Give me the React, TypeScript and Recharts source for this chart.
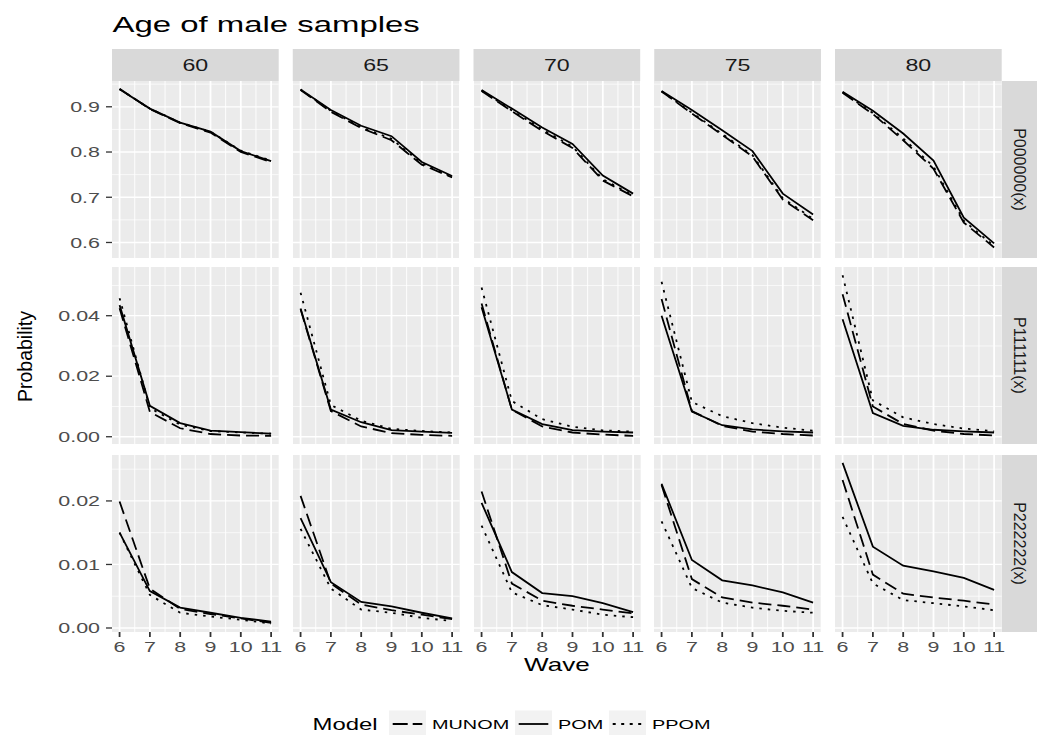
import React from "react";
import { CartesianGrid, Line, LineChart, XAxis, YAxis } from "recharts";

// the reference text is drawn wide, so horizontal labels get this x-stretch
const SX = 1.45;
const FONT = '"Liberation Sans", Arial, Helvetica, sans-serif';

const waves = [6, 7, 8, 9, 10, 11];
const ages = ["60", "65", "70", "75", "80"];
const quantities = ["P000000(x)", "P111111(x)", "P222222(x)"];
const models = ["MUNOM", "POM", "PPOM"];

// P000000(x): one row per age (60..80), one value per wave (6..11)
const p0MUNOM = [
  [0.94, 0.895, 0.864, 0.843, 0.8, 0.778],
  [0.937, 0.889, 0.853, 0.826, 0.772, 0.744],
  [0.935, 0.89, 0.847, 0.809, 0.737, 0.702],
  [0.934, 0.885, 0.838, 0.79, 0.695, 0.649],
  [0.931, 0.884, 0.826, 0.763, 0.644, 0.589],
];
const p0POM = [
  [0.939, 0.896, 0.865, 0.845, 0.802, 0.78],
  [0.938, 0.893, 0.858, 0.835, 0.778, 0.747],
  [0.937, 0.896, 0.854, 0.818, 0.748, 0.708],
  [0.935, 0.893, 0.848, 0.802, 0.708, 0.662],
  [0.933, 0.891, 0.841, 0.781, 0.655, 0.598],
];
const p0PPOM = [
  [0.939, 0.896, 0.865, 0.845, 0.803, 0.781],
  [0.938, 0.891, 0.855, 0.829, 0.775, 0.745],
  [0.936, 0.892, 0.85, 0.812, 0.74, 0.704],
  [0.934, 0.887, 0.84, 0.793, 0.698, 0.652],
  [0.932, 0.886, 0.83, 0.768, 0.648, 0.592],
];

// P111111(x)
const p1MUNOM = [
  [0.0425, 0.0082, 0.0028, 0.0009, 0.0004, 0.0003],
  [0.0421, 0.0085, 0.0034, 0.0012, 0.0006, 0.0003],
  [0.044, 0.0089, 0.0034, 0.0014, 0.0007, 0.0003],
  [0.0455, 0.0085, 0.0036, 0.0017, 0.0009, 0.0004],
  [0.0471, 0.01, 0.0042, 0.002, 0.0009, 0.0004],
];
const p1POM = [
  [0.0435, 0.0102, 0.0045, 0.002, 0.0015, 0.001],
  [0.0424, 0.009, 0.0048, 0.0022, 0.0017, 0.0013],
  [0.0428, 0.009, 0.0042, 0.0022, 0.0017, 0.0014],
  [0.04, 0.0083, 0.0038, 0.0024, 0.0018, 0.0014],
  [0.0388, 0.0078, 0.0036, 0.0023, 0.0018, 0.0014],
];
const p1PPOM = [
  [0.0458, 0.0095, 0.004, 0.0019, 0.0014, 0.001],
  [0.0476, 0.0105, 0.0053, 0.0026, 0.0019, 0.0014],
  [0.0493, 0.0118, 0.0058, 0.0033, 0.0021, 0.0017],
  [0.0512, 0.0115, 0.0068, 0.0045, 0.003, 0.002],
  [0.0534, 0.012, 0.0064, 0.0042, 0.0027, 0.0018],
];

// P222222(x)
const p2MUNOM = [
  [0.0199, 0.0062, 0.003, 0.0022, 0.0015, 0.0008],
  [0.0208, 0.007, 0.0037, 0.0028, 0.0021, 0.0014],
  [0.0215, 0.007, 0.0043, 0.0035, 0.0029, 0.0023],
  [0.0225, 0.0077, 0.0048, 0.004, 0.0035, 0.0029],
  [0.0233, 0.0084, 0.0054, 0.0048, 0.0043, 0.0037],
];
const p2POM = [
  [0.015, 0.0058, 0.0032, 0.0024, 0.0016, 0.001],
  [0.0173, 0.0072, 0.0041, 0.0034, 0.0024, 0.0015],
  [0.0197, 0.0088, 0.0055, 0.005, 0.0039, 0.0025],
  [0.0227, 0.0107, 0.0075, 0.0067, 0.0056, 0.004],
  [0.026, 0.0128, 0.0098, 0.0089, 0.0079, 0.006],
];
const p2PPOM = [
  [0.015, 0.0052, 0.0024, 0.0018, 0.0013, 0.0007],
  [0.0156, 0.0062, 0.0029, 0.0024, 0.0016, 0.0011],
  [0.0161, 0.0056, 0.0036, 0.0029, 0.0021, 0.0017],
  [0.0168, 0.0063, 0.004, 0.0032, 0.0027, 0.0024],
  [0.0175, 0.007, 0.0044, 0.0039, 0.0034, 0.0028],
];

const rowSeries = [
  { MUNOM: p0MUNOM, POM: p0POM, PPOM: p0PPOM },
  { MUNOM: p1MUNOM, POM: p1POM, PPOM: p1PPOM },
  { MUNOM: p2MUNOM, POM: p2POM, PPOM: p2PPOM },
];

const rowTicks = [[0.6, 0.7, 0.8, 0.9], [0, 0.02, 0.04], [0, 0.01, 0.02]];
const rowMinor = [[0.65, 0.75, 0.85, 0.95], [0.01, 0.03, 0.05], [0.005, 0.015, 0.025]];
const rowDomains: [number, number][] = [[0.5657, 0.957], [-0.0024, 0.0561], [-0.00063, 0.02723]];
const rowDigits = [1, 2, 2];
const waveMinor = [6.5, 7.5, 8.5, 9.5, 10.5];

// layout (page pixels)
const PANEL_X0 = 112;
const PANEL_STEP = 180.75;
const PANEL_W = 166.7;
const PANEL_TOPS = [81, 267, 455];
const PANEL_H = 177;
const Y_AXIS_W = 60;
const X_AXIS_H = 32;
const X_PAD_R = 12; // room for the stretched "11" label
const STRIP_TOP = 49;
const STRIP_H = 32;
const RSTRIP_X = PANEL_X0 + 4 * PANEL_STEP + PANEL_W;
const RSTRIP_W = 35.3;

const panelDash: Record<string, string | undefined> = { MUNOM: "13 6", POM: undefined, PPOM: "2.5 6" };
const keyDash: Record<string, string | undefined> = { MUNOM: "15 5", POM: undefined, PPOM: "3 5.5" };

function YTick(props: any) {
  const { x, y, payload, digits } = props;
  return (
    <g transform={`translate(${x},${y}) scale(${SX},1)`}>
      <text x={0} y={0} dy="0.355em" textAnchor="end" fill="#4D4D4D" fontSize={14.8} fontFamily={FONT}>
        {Number(payload.value).toFixed(digits)}
      </text>
    </g>
  );
}

function XTick(props: any) {
  const { x, y, payload } = props;
  return (
    <g transform={`translate(${x},${y}) scale(${SX},1)`}>
      <text x={0} y={0} dy="0.71em" textAnchor="middle" fill="#4D4D4D" fontSize={14.8} fontFamily={FONT}>
        {payload.value}
      </text>
    </g>
  );
}

function Panel({ row, col }: { row: number; col: number }) {
  const series = rowSeries[row] as Record<string, number[][]>;
  const data = waves.map((wave, i) => ({
    wave,
    MUNOM: series.MUNOM[col][i],
    POM: series.POM[col][i],
    PPOM: series.PPOM[col][i],
  }));
  const showY = col === 0;
  const showX = row === 2;
  const padR = showX ? X_PAD_R : 0;
  const width = PANEL_W + (showY ? Y_AXIS_W : 0) + padR;
  const height = PANEL_H + (showX ? X_AXIS_H : 0);
  const left = PANEL_X0 + col * PANEL_STEP - (showY ? Y_AXIS_W : 0);

  return (
    <div style={{ position: "absolute", left, top: PANEL_TOPS[row] }}>
      <LineChart width={width} height={height} data={data} margin={{ top: 0, right: padR, bottom: 0, left: 0 }}>
        <CartesianGrid fill="#EBEBEB" stroke="#FFFFFF" strokeWidth={0.7} vertical={false} horizontalValues={rowMinor[row]} />
        <CartesianGrid stroke="#FFFFFF" strokeWidth={0.9} horizontal={false} verticalValues={waveMinor} />
        <CartesianGrid stroke="#FFFFFF" strokeWidth={1.3} vertical={false} horizontalValues={rowTicks[row]} />
        <CartesianGrid stroke="#FFFFFF" strokeWidth={1.8} horizontal={false} verticalValues={waves} />
        <XAxis
          dataKey="wave"
          type="number"
          domain={[5.75, 11.25]}
          allowDataOverflow
          ticks={waves}
          interval={0}
          hide={!showX}
          height={X_AXIS_H}
          axisLine={false}
          stroke="#333333"
          tickSize={5}
          tickMargin={4}
          tickLine={{ stroke: "#333333", strokeWidth: 1.8 }}
          tick={(p: any) => <XTick {...p} />}
        />
        <YAxis
          type="number"
          domain={rowDomains[row]}
          allowDataOverflow
          ticks={rowTicks[row]}
          interval={0}
          hide={!showY}
          width={Y_AXIS_W}
          axisLine={false}
          stroke="#333333"
          tickSize={6}
          tickMargin={6}
          tickLine={{ stroke: "#333333", strokeWidth: 1.3 }}
          tick={(p: any) => <YTick {...p} digits={rowDigits[row]} />}
        />
        {models.map((m) => (
          <Line
            key={m}
            dataKey={m}
            type="linear"
            stroke="#000000"
            strokeWidth={1.8}
            strokeDasharray={panelDash[m]}
            dot={false}
            activeDot={false}
            isAnimationActive={false}
          />
        ))}
      </LineChart>
    </div>
  );
}

function WideText({ x, y, size, anchor = "start", fill = "#000000", children }: any) {
  return (
    <g transform={`translate(${x},${y}) scale(${SX},1)`}>
      <text x={0} y={0} textAnchor={anchor} fontSize={size} fill={fill} fontFamily={FONT}>
        {children}
      </text>
    </g>
  );
}

const legendBoxes = [389, 515, 609];
const KEY_W = 37;

export default function App() {
  const plotCenterX = (PANEL_X0 + RSTRIP_X) / 2;
  const plotCenterY = (PANEL_TOPS[0] + PANEL_TOPS[2] + PANEL_H) / 2;
  return (
    <div
      style={{
        position: "absolute",
        left: 0,
        top: 0,
        width: 1037,
        height: 735,
        overflow: "hidden",
        background: "#FFFFFF",
        fontFamily: FONT,
      }}
    >
      <svg width={1037} height={735} style={{ position: "absolute", left: 0, top: 0 }}>
        <WideText x={112.5} y={31.5} size={22.7}>
          Age of male samples
        </WideText>

        {ages.map((age, c) => {
          const x = PANEL_X0 + c * PANEL_STEP;
          return (
            <g key={age}>
              <rect x={x} y={STRIP_TOP} width={PANEL_W} height={STRIP_H} fill="#D9D9D9" />
              <WideText x={x + PANEL_W / 2} y={70.7} size={16} anchor="middle" fill="#1A1A1A">
                {age}
              </WideText>
            </g>
          );
        })}

        {quantities.map((q, r) => (
          <g key={q}>
            <rect x={RSTRIP_X} y={PANEL_TOPS[r]} width={RSTRIP_W} height={PANEL_H} fill="#D9D9D9" />
            <text
              transform={`translate(${RSTRIP_X + RSTRIP_W / 2},${PANEL_TOPS[r] + PANEL_H / 2}) rotate(90)`}
              textAnchor="middle"
              dy="0.35em"
              fontSize={16}
              fill="#1A1A1A"
              fontFamily={FONT}
            >
              {q}
            </text>
          </g>
        ))}

        <text
          transform={`translate(25,${plotCenterY}) rotate(-90)`}
          textAnchor="middle"
          dy="0.35em"
          fontSize={19.5}
          fill="#000000"
          fontFamily={FONT}
        >
          Probability
        </text>

        <WideText x={plotCenterX} y={671} size={18} anchor="middle">
          Wave
        </WideText>

        <WideText x={312.5} y={729.5} size={16.5}>
          Model
        </WideText>
        {models.map((m, i) => {
          const bx = legendBoxes[i];
          return (
            <g key={m}>
              <rect x={bx} y={710.5} width={KEY_W} height={27} fill="#F2F2F2" />
              <line
                x1={bx + KEY_W * 0.1}
                x2={bx + KEY_W * 0.9}
                y1={724}
                y2={724}
                stroke="#000000"
                strokeWidth={1.8}
                strokeDasharray={keyDash[m]}
              />
              <WideText x={bx + KEY_W + 6} y={729.3} size={13.7}>
                {m}
              </WideText>
            </g>
          );
        })}
      </svg>

      {[0, 1, 2].map((r) => ages.map((_, c) => <Panel key={`${r}-${c}`} row={r} col={c} />))}
    </div>
  );
}
